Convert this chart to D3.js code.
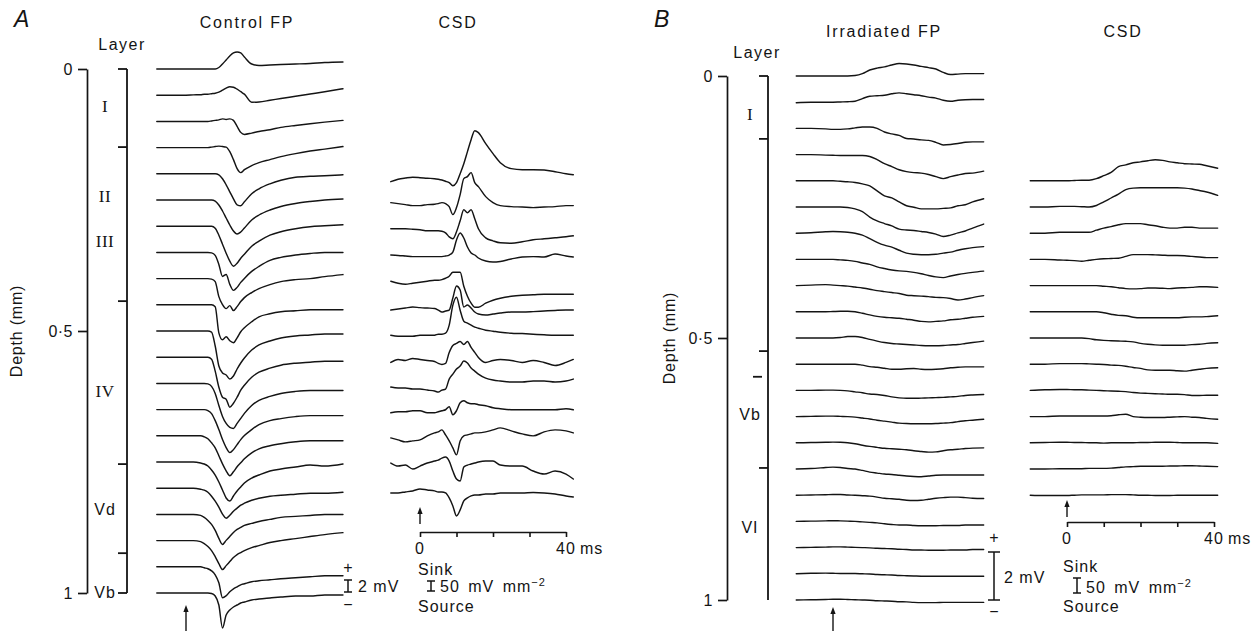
<!DOCTYPE html>
<html><head><meta charset="utf-8">
<script src="https://cdn.jsdelivr.net/npm/d3@7/dist/d3.min.js"></script>
<style>
html,body{margin:0;padding:0;background:#fff;}
</style></head><body>
<svg id="fig" width="1258" height="631" viewBox="0 0 1258 631"></svg>
<script>
// ================= DATA =================
// --- Panel A: control field potentials (mV), sample times (ms) ---
const fpATimes = [-8,-4,0,2,4,5,6,7,8,9,10,11,12,13,14,15,16,18,20,23,26,30,34,38,43];
const fpADepths = [0,0.05,0.1,0.15,0.2,0.25,0.3,0.35,0.4,0.45,0.5,0.55,0.6,0.65,0.7,0.75,0.8,0.85,0.9,0.95,1];
const fpA = [
 [0,0,0,0,0,0,0,0,0,0.25,0.83,1.5,2.17,2.67,2.83,2.67,2,0.83,0.58,0.67,0.75,0.83,0.92,1.08,1.17],
 [0,0,0,0.05,0.08,0.17,0.17,0.25,0.33,0.5,0.83,1.17,1.42,1.33,1,0.58,0.17,-1.17,-1.13,-0.85,-0.55,-0.18,0.2,0.58,1.08],
 [0,0,0,0,0,0,0,0.08,0.17,0.25,0.42,0.33,0.42,0.17,-0.83,-1.83,-2.17,-1.95,-1.67,-1.38,-1,-0.67,-0.38,-0.12,0.17],
 [0,0,0,0,0,0,0,0.08,0.17,0.25,0.17,0.08,-0.67,-2,-3.5,-4.17,-3.67,-3,-2.5,-2,-1.5,-1,-0.58,-0.25,0.17],
 [0,0,0,0,0,0,0,0,0,-0.17,-0.83,-1.83,-3,-4.17,-5.17,-5.33,-4.67,-3.33,-2.5,-1.67,-1.08,-0.58,-0.42,-0.33,-0.17],
 [0,0,0,0,0,0,0,0,-0.17,-0.83,-1.83,-3,-4.17,-5.17,-5.67,-5.33,-4.67,-3.33,-2.5,-1.67,-1.08,-0.58,-0.25,0,0.17],
 [0,0,0,0,0,0,0,0,-0.33,-1.5,-3,-4.5,-5.83,-6.67,-6.17,-5.33,-4.67,-3.33,-2.5,-1.5,-0.92,-0.42,-0.08,0.08,0.25],
 [0,0,0,0,0,0,0,-0.08,-0.5,-2,-4,-3.67,-5.33,-6.33,-5.83,-5,-4.33,-3.17,-2.33,-1.33,-0.83,-0.42,-0.17,0,0],
 [0,0,0,0,0,0,0,-0.08,-0.5,-3,-4.33,-5,-4.5,-5.33,-4.67,-3.83,-3.17,-2.33,-1.67,-1,-0.5,-0.17,0,0.33,0.67],
 [0,0,0,0,0,0,0,0,-0.33,-4.67,-5.83,-5.33,-6,-6.33,-5.5,-4.5,-3.83,-2.83,-2,-1.5,-1.17,-1,-0.83,-0.83,-0.83],
 [0,0,0,0,0,0,0,-0.17,-2.5,-5.83,-7,-7.33,-8,-7.5,-6.33,-5.33,-4.5,-3.17,-2.33,-1.67,-1.17,-0.83,-0.67,-0.5,-0.5],
 [0,0,0,0,0,0,0,-0.33,-2.33,-5,-6.67,-7,-8.33,-7.67,-6.67,-5.5,-4.67,-3.33,-2.5,-1.83,-1.33,-1,-0.83,-0.67,-0.67],
 [0,0,0,0,0,0,-0.08,-0.5,-1.67,-3.67,-5.5,-6.67,-7.33,-7.5,-6.67,-5.83,-5,-3.67,-2.83,-2.17,-1.67,-1.33,-1.17,-1.17,-1.17],
 [0,0,0,0,0,0,-0.17,-0.67,-1.83,-3.33,-5,-6.33,-7.17,-6.67,-5.83,-5,-4.33,-3.33,-2.5,-1.83,-1.5,-1.17,-1,-1,-1],
 [0,0,0,0,0,-0.17,-0.5,-1.17,-2,-3.33,-4.67,-5.83,-6.67,-6,-5.17,-4.5,-3.83,-2.83,-2.17,-1.67,-1.33,-1,-0.83,-0.83,-0.83],
 [0,0,0,0,-0.17,-0.33,-0.67,-1.33,-2.17,-3.33,-4.67,-6,-6.5,-5.67,-4.83,-4.17,-3.5,-2.67,-2.17,-1.5,-1.17,-0.83,-0.5,-0.67,-0.33],
 [0,0,0,0,-0.17,-0.33,-0.67,-1.33,-2.17,-3.17,-4.33,-5,-4.5,-3.83,-3.33,-2.83,-2.5,-2,-1.67,-1.33,-1.17,-1,-0.83,-0.83,-0.67],
 [0,0,0,0,-0.17,-0.5,-1,-1.67,-2.67,-4,-5,-4.33,-3.67,-3,-2.5,-2.17,-1.83,-1.5,-1.17,-0.83,-0.5,-0.33,-0.17,0,0],
 [0,0,0,0,-0.17,-0.5,-1,-1.67,-2.67,-3.83,-4.83,-4.17,-3.5,-2.83,-2.33,-2,-1.67,-1.17,-0.83,-0.33,0,0.33,0.67,1,1.33],
 [0,0,0,0,0,-0.17,-0.33,-0.67,-1.33,-2.67,-5.17,-4.83,-4.17,-3.67,-3.33,-3,-2.83,-2.5,-2.33,-2.17,-2,-1.83,-1.67,-1.5,-1.5],
 [0,0,0,0,0,0,0,-0.08,-0.5,-2,-5.83,-3.67,-2.83,-2.33,-2,-1.67,-1.5,-1.17,-1,-0.83,-0.67,-0.5,-0.5,-0.33,-0.33]
];

// --- Panel A: CSD (mV mm^-2), sink up ---
const csdATimes = [-8,-6,-4,-2,0,2,4,5,6,7,8,9,10,11,12,13,14,15,16,18,20,22,25,28,31,34,37,40,42];
const csdADepths = [0.215,0.255,0.305,0.355,0.405,0.46,0.508,0.56,0.607,0.656,0.704,0.752,0.809];
const csdA = [
 [0,12,18,22,20,17,15,12,8,2,-5,-20,-5,40,90,150,210,255,245,190,140,95,65,60,60,58,50,40,35],
 [0,-5,-10,-15,-15,-10,-8,-5,0,-5,-20,-60,-25,40,120,130,150,100,80,30,0,-15,-20,-22,-25,-22,-20,-15,-15],
 [0,0,0,-2,-5,-10,-10,-10,-12,-20,-40,-50,-15,40,95,80,95,50,0,-45,-60,-70,-72,-65,-55,-50,-45,-40,-35],
 [0,-2,-5,-8,-8,-8,-8,-8,-8,-5,0,15,75,110,85,40,10,0,-15,-30,-35,-32,-20,-10,-8,-10,5,-5,-10],
 [0,-10,-15,-10,-5,0,5,5,8,15,25,45,45,45,-25,-75,-110,-130,-130,-110,-95,-85,-75,-70,-68,-65,-65,-65,-65],
 [0,5,10,15,12,10,8,0,-10,-5,0,60,120,100,15,25,10,-10,-20,-25,-20,-15,-10,-10,-8,-5,-2,0,0],
 [0,-5,-5,-5,0,0,0,5,5,10,50,150,190,125,70,60,50,40,35,25,20,15,10,8,5,2,0,0,0],
 [0,15,10,20,15,10,5,-5,-10,-5,50,85,95,105,90,105,75,50,25,0,10,15,10,0,10,0,-15,0,15],
 [0,-5,-5,-10,-10,-15,-20,-25,-15,-10,40,65,90,105,130,120,95,80,65,45,35,30,25,25,30,30,25,30,40],
 [0,5,5,10,10,0,0,5,10,15,30,-10,10,50,60,50,45,45,40,35,25,20,15,15,15,15,15,20,15],
 [0,-10,-20,-15,-10,10,25,30,40,15,-15,-50,-85,-15,10,15,20,25,25,30,40,50,35,20,10,30,40,35,25],
 [0,-15,-10,-30,-15,0,10,15,25,30,10,-40,-80,-90,-20,-10,-5,0,5,10,10,-10,-15,-15,-40,-55,-40,-55,-80],
 [0,0,5,10,20,15,10,5,5,0,-25,-65,-115,-85,-40,-25,-15,-10,-10,-5,-5,0,0,0,2,0,-5,-15,-20]
];

// --- Panel B: irradiated field potentials (mV) ---
const fpBTimes = [-10,-6,-2,0,2,4,6,8,10,12,14,16,18,20,22,24,26,28,30,32,34,36,38,41];
const fpBDepths = [0,0.05,0.1,0.15,0.2,0.25,0.3,0.35,0.4,0.45,0.5,0.55,0.6,0.65,0.7,0.75,0.8,0.85,0.9,0.95,1];
const fpB = [
 [0,0,0,0,0,0,0.02,0.1,0.25,0.33,0.38,0.46,0.52,0.5,0.46,0.4,0.35,0.29,0.15,0.06,0.08,0.1,0.1,0.1],
 [-0.02,0,0,0,0.01,0.02,0.04,0.15,0.25,0.27,0.29,0.35,0.39,0.35,0.31,0.27,0.21,0.17,0.08,0.04,0.08,0.1,0.11,0.11],
 [0,0,-0.02,-0.04,-0.04,-0.02,0.02,0.06,0.06,0,-0.15,-0.23,-0.29,-0.42,-0.44,-0.48,-0.5,-0.58,-0.69,-0.67,-0.63,-0.58,-0.56,-0.56],
 [0,0,-0.02,-0.03,-0.04,-0.04,-0.04,-0.04,-0.08,-0.21,-0.38,-0.5,-0.63,-0.71,-0.75,-0.77,-0.83,-0.92,-1,-0.92,-0.85,-0.79,-0.77,-0.69],
 [0,0,0,0,-0.02,-0.04,-0.07,-0.13,-0.21,-0.42,-0.63,-0.71,-0.88,-1.04,-1.1,-1.17,-1.17,-1.17,-1.15,-1.13,-1.04,-1,-0.88,-0.75],
 [0,0,0,0,0,-0.02,-0.08,-0.19,-0.42,-0.58,-0.69,-0.79,-0.92,-0.96,-0.98,-1.02,-1.06,-1.13,-1.23,-1.17,-1.08,-1,-0.88,-0.71],
 [0,0.02,0.06,0.07,0.06,0.04,0,-0.08,-0.23,-0.38,-0.5,-0.58,-0.71,-0.83,-0.88,-0.9,-0.9,-0.88,-0.83,-0.79,-0.71,-0.65,-0.6,-0.56],
 [0,0,0,0,-0.02,-0.04,-0.08,-0.15,-0.21,-0.31,-0.38,-0.44,-0.48,-0.5,-0.54,-0.6,-0.67,-0.73,-0.76,-0.69,-0.63,-0.58,-0.54,-0.49],
 [0,0.02,0.04,0.02,0,-0.02,-0.06,-0.1,-0.15,-0.21,-0.25,-0.29,-0.33,-0.4,-0.42,-0.44,-0.46,-0.49,-0.5,-0.54,-0.6,-0.56,-0.5,-0.42],
 [0,0,0,0.01,0.02,0.02,0,-0.06,-0.13,-0.19,-0.23,-0.25,-0.27,-0.31,-0.35,-0.4,-0.42,-0.4,-0.38,-0.33,-0.31,-0.27,-0.23,-0.19],
 [0,0,0,0,0.02,0.06,0.06,0.02,-0.06,-0.13,-0.19,-0.23,-0.25,-0.27,-0.29,-0.31,-0.32,-0.32,-0.31,-0.29,-0.27,-0.23,-0.19,-0.13],
 [0,0,0,0,0,0,0,-0.04,-0.1,-0.13,-0.17,-0.21,-0.21,-0.19,-0.18,-0.21,-0.22,-0.21,-0.19,-0.15,-0.13,-0.11,-0.11,-0.11],
 [0,0,0.01,0.01,0,-0.02,-0.06,-0.1,-0.15,-0.17,-0.21,-0.27,-0.31,-0.33,-0.33,-0.32,-0.31,-0.3,-0.29,-0.27,-0.25,-0.21,-0.19,-0.17],
 [0,0.01,0.02,0.02,0.01,0,-0.02,-0.06,-0.1,-0.15,-0.19,-0.23,-0.27,-0.29,-0.3,-0.3,-0.3,-0.29,-0.27,-0.25,-0.21,-0.17,-0.15,-0.11],
 [0,0.01,0.02,0.03,0.02,0,-0.04,-0.1,-0.15,-0.19,-0.23,-0.25,-0.27,-0.29,-0.33,-0.36,-0.39,-0.38,-0.33,-0.29,-0.27,-0.24,-0.22,-0.21],
 [0,0.02,0.06,0.08,0.06,0.02,0,-0.06,-0.13,-0.17,-0.21,-0.23,-0.26,-0.29,-0.31,-0.32,-0.29,-0.26,-0.25,-0.25,-0.25,-0.25,-0.25,-0.25],
 [0,0.01,0.02,0.03,0.03,0.01,0,-0.02,-0.04,-0.08,-0.13,-0.15,-0.17,-0.21,-0.22,-0.21,-0.17,-0.13,-0.1,-0.08,-0.08,-0.1,-0.13,-0.14],
 [0,0.01,0.02,0.03,0.02,0.01,0,-0.02,-0.04,-0.06,-0.1,-0.13,-0.15,-0.15,-0.17,-0.18,-0.18,-0.18,-0.17,-0.17,-0.17,-0.15,-0.15,-0.15],
 [0,0.01,0.02,0.03,0.03,0.02,0.01,0,-0.01,-0.03,-0.04,-0.05,-0.07,-0.08,-0.1,-0.1,-0.11,-0.11,-0.11,-0.1,-0.1,-0.1,-0.08,-0.08],
 [0,0.02,0.03,0.02,0.01,0.01,0.01,0,-0.01,-0.03,-0.04,-0.05,-0.07,-0.08,-0.09,-0.1,-0.1,-0.1,-0.1,-0.1,-0.1,-0.1,-0.1,-0.1],
 [0,0.01,0.02,0.03,0.03,0.02,0.01,0,-0.01,-0.03,-0.04,-0.05,-0.07,-0.08,-0.1,-0.11,-0.11,-0.11,-0.1,-0.1,-0.1,-0.1,-0.1,-0.1]
];

// --- Panel B: CSD (mV mm^-2), sink up ---
const csdBTimes = [-10,-6,-2,0,2,4,6,8,10,12,14,16,18,20,22,24,26,28,30,32,34,36,38,41];
const csdBDepths = [0.2,0.25,0.3,0.35,0.4,0.45,0.5,0.55,0.6,0.65,0.7,0.75,0.8];
const csdB = [
 [0,0,0,0,1,2,2,7,17,28,47,53,60,63,67,70,68,63,60,57,56,55,50,42],
 [0,0,2,2,2,1,0,5,17,30,43,58,63,64,64,64,64,64,64,63,60,55,50,39],
 [0,0,3,3,3,3,3,10,17,22,28,32,32,32,28,25,20,17,17,20,20,17,17,17],
 [0,0,-2,-3,-4,-6,-3,0,2,3,4,10,16,16,16,15,14,13,13,12,10,8,6,6],
 [0,0,0,0,0,0,0,0,-2,-4,-7,-10,-11,-10,-8,-8,-9,-10,-8,-7,-6,-4,-4,-6],
 [0,0,0,0,0,0,0,0,-3,-8,-12,-13,-18,-20,-20,-20,-20,-20,-20,-18,-17,-17,-16,-13],
 [0,0,0,0,0,0,-2,-6,-8,-9,-10,-11,-13,-18,-21,-23,-24,-24,-24,-24,-22,-21,-18,-16],
 [0,0,2,2,2,2,1,0,-1,-3,-4,-7,-11,-14,-19,-20,-20,-20,-22,-23,-20,-17,-14,-12],
 [0,2,3,3,2,2,1,0,-1,-2,-3,-4,-7,-9,-10,-11,-12,-13,-13,-14,-17,-17,-16,-16],
 [0,0,2,2,2,2,2,2,2,3,6,8,0,-2,-3,-3,-3,-2,-1,0,-2,-3,-6,-9],
 [0,1,2,2,1,1,0,0,-1,0,0,0,0,1,1,2,2,2,1,0,0,0,0,-2],
 [0,0,1,1,1,1,2,2,2,3,5,7,8,9,9,9,9,10,10,11,11,10,9,8],
 [0,-1,-1,-1,0,1,1,1,1,2,2,2,1,0,0,-1,-1,-1,0,0,0,0,0,0]
];

// --- axes / annotation values ---
const depthTicks = [0, 0.5, 1];
const timeTicks = [0, 10, 20, 30, 40];
const layerBoundsA = [0, 0.149, 0.443, 0.754, 0.924, 1];
const layerNamesA = ["I", "II", "III", "IV", "Vd", "Vb"];
const layerLabelDepthA = [0.071, 0.242, 0.328, 0.615, 0.84, 0.998];
const layerSerifA = [true, true, true, true, false, false];
const layerBoundsB = [0, 0.12, 0.525, 0.748];
const layerMarkB = [0.574];
const layerNamesB = ["I", "Vb", "VI"];
const layerLabelDepthB = [0.073, 0.645, 0.861];
const layerSerifB = [true, false, false];
const fpScaleMV = 2;        // 2 mV
const csdScale = 50;        // 50 mV mm^-2

// ================= DRAWING =================
const svg = d3.select("#fig");
const INK = "#141414";
const SANS = "'Liberation Sans', Arial, Helvetica, sans-serif";
const SERIF = "'Liberation Serif', 'Times New Roman', serif";

// scales
const depthA = d3.scaleLinear().domain([0, 1]).range([69, 593]);
const depthB = d3.scaleLinear().domain([0, 1]).range([76, 600]);
const xFpA = d3.scaleLinear().domain([0, 40]).range([186, 332]);
const xCsdA = d3.scaleLinear().domain([0, 40]).range([420, 566]);
const xFpB = d3.scaleLinear().domain([0, 40]).range([833, 980]);
const xCsdB = d3.scaleLinear().domain([0, 40]).range([1067, 1214]);
const vFpA = d3.scaleLinear().domain([0, 1]).range([0, -6]);     // px offset per mV
const vCsdA = d3.scaleLinear().domain([0, 50]).range([0, -10]);
const vFpB = d3.scaleLinear().domain([0, 1]).range([0, -24]);
const vCsdB = d3.scaleLinear().domain([0, 50]).range([0, -15]);

function drawTraces(times, data, depths, xS, dS, vS, sw) {
  const g = svg.append("g");
  data.forEach((vals, i) => {
    const y0 = dS(depths[i]);
    const line = d3.line()
      .x((v, j) => xS(times[j]))
      .y(v => y0 + vS(v))
      .curve(d3.curveMonotoneX);
    g.append("path").attr("d", line(vals))
      .attr("fill", "none").attr("stroke", INK)
      .attr("stroke-width", sw).attr("stroke-linejoin", "round").attr("stroke-linecap", "round");
  });
}

function label(x, y, s, o = {}) {
  const t = svg.append("text").attr("x", x).attr("y", y).text(s)
    .attr("font-family", o.serif ? SERIF : SANS)
    .attr("font-size", o.size || 16)
    .attr("text-anchor", o.anchor || "start")
    .attr("letter-spacing", o.ls !== undefined ? o.ls : 1)
    .attr("fill", INK);
  if (o.italic) t.attr("font-style", "italic");
  if (o.rotate) t.attr("transform", `rotate(${o.rotate},${x},${y})`);
  return t;
}

function depthAxis(dS, x) {
  const ax = d3.axisLeft(dS).tickValues(depthTicks).tickSize(9).tickSizeOuter(0).tickPadding(5)
    .tickFormat(d => d === 0.5 ? "0·5" : String(d));
  const g = svg.append("g").attr("transform", `translate(${x},0)`).call(ax)
    .attr("font-family", SANS).attr("font-size", 16);
  g.select(".domain").attr("stroke", INK).attr("stroke-width", 1.7);
  g.selectAll(".tick line").attr("stroke", INK).attr("stroke-width", 1.7);
  g.selectAll(".tick text").attr("fill", INK).attr("letter-spacing", 0.5);
}

function layerBar(dS, x, bounds, marks, names, labDepths, serif, labX) {
  const g = svg.append("g").attr("stroke", INK).attr("stroke-width", 1.8);
  g.append("line").attr("x1", x).attr("x2", x).attr("y1", dS(0)).attr("y2", dS(1));
  bounds.forEach(b => g.append("line").attr("x1", x - 9).attr("x2", x).attr("y1", dS(b)).attr("y2", dS(b)));
  marks.forEach(b => g.append("line").attr("x1", x - 15).attr("x2", x - 6).attr("y1", dS(b)).attr("y2", dS(b)));
  names.forEach((n, i) => label(labX, dS(labDepths[i]) + 6, n, {anchor: "middle", serif: serif[i], size: serif[i] ? 17 : 16, ls: serif[i] ? 0.5 : 1}));
}

function timeAxis(xS, y) {
  const ax = d3.axisBottom(xS).tickValues(timeTicks).tickSize(5).tickSizeOuter(0).tickFormat("");
  const g = svg.append("g").attr("transform", `translate(0,${y})`).call(ax);
  g.select(".domain").attr("stroke", INK).attr("stroke-width", 1.6);
  g.selectAll(".tick line").attr("stroke", INK).attr("stroke-width", 1.6);
  label(xS(0), y + 22, "0", {anchor: "middle"});
  label(xS(40), y + 22, "40", {anchor: "middle"});
  label(xS(40) + 14, y + 22, "ms");
}

function arrow(x, yBottom, yTop) {
  svg.append("line").attr("x1", x).attr("x2", x).attr("y1", yBottom).attr("y2", yTop + 4)
    .attr("stroke", INK).attr("stroke-width", 1.4);
  svg.append("path").attr("d", `M${x - 2.6},${yTop + 7}L${x},${yTop}L${x + 2.6},${yTop + 7}Z`).attr("fill", INK);
}

function ibar(x, yBottom, len, cap) {
  const yTop = yBottom + len;
  svg.append("path")
    .attr("d", `M${x - cap},${yTop}H${x + cap}M${x},${yTop}V${yBottom}M${x - cap},${yBottom}H${x + cap}`)
    .attr("stroke", INK).attr("stroke-width", 1.5).attr("fill", "none");
}

function csdUnits(x, y) {
  const t = label(x, y, "50 mV mm", {ls: 1});
  t.attr("word-spacing", 3);
  t.append("tspan").attr("dy", -6).attr("font-size", 11).text("−2");
}

// ---------- Panel A ----------
label(14, 27, "A", {italic: true, size: 23, ls: 0});
label(247, 28, "Control FP", {anchor: "middle", ls: 1.8});
label(458, 28, "CSD", {anchor: "middle", ls: 1.8});
label(122, 50, "Layer", {anchor: "middle", ls: 1.5});
depthAxis(depthA, 87);
label(22, depthA(0.5), "Depth (mm)", {anchor: "middle", rotate: -90, size: 16, ls: 0.8});
layerBar(depthA, 127, layerBoundsA, [], layerNamesA, layerLabelDepthA, layerSerifA, 105);

drawTraces(fpATimes, fpA, fpADepths, xFpA, depthA, vFpA, 1.45);
drawTraces(csdATimes, csdA, csdADepths, xCsdA, depthA, vCsdA, 1.45);

arrow(xFpA(0), 631, 605);
arrow(xCsdA(0), 524, 507);
timeAxis(xCsdA, 532);

// FP scale (A)
label(348, 573, "+", {anchor: "middle", ls: 0});
ibar(348, 592, vFpA(fpScaleMV), 4);
label(358, 592, "2 mV");
label(348, 610, "−", {anchor: "middle", ls: 0});
// CSD scale (A)
label(418, 575, "Sink");
ibar(431, 591, vCsdA(csdScale), 4);
csdUnits(440, 592);
label(418, 612, "Source");

// ---------- Panel B ----------
label(654, 27, "B", {italic: true, size: 23, ls: 0});
label(884, 37, "Irradiated FP", {anchor: "middle", ls: 1.8});
label(1123, 37, "CSD", {anchor: "middle", ls: 1.8});
label(757, 58, "Layer", {anchor: "middle", ls: 1.5});
depthAxis(depthB, 727);
label(675, depthB(0.5), "Depth (mm)", {anchor: "middle", rotate: -90, size: 16, ls: 0.8});
layerBar(depthB, 768, layerBoundsB, layerMarkB, layerNamesB, layerLabelDepthB, layerSerifB, 750);

drawTraces(fpBTimes, fpB, fpBDepths, xFpB, depthB, vFpB, 1.4);
drawTraces(csdBTimes, csdB, csdBDepths, xCsdB, depthB, vCsdB, 1.4);

arrow(xFpB(0), 632, 607);
arrow(xCsdB(0), 517, 500);
timeAxis(xCsdB, 522);

// FP scale (B)
label(994, 543, "+", {anchor: "middle", ls: 0});
ibar(994, 600, vFpB(fpScaleMV), 6);
label(1004, 583, "2 mV");
label(994, 617, "−", {anchor: "middle", ls: 0});
// CSD scale (B)
label(1063, 572, "Sink");
ibar(1077, 593, vCsdB(csdScale), 4);
csdUnits(1086, 593);
label(1063, 612, "Source");
</script>
</body></html>
